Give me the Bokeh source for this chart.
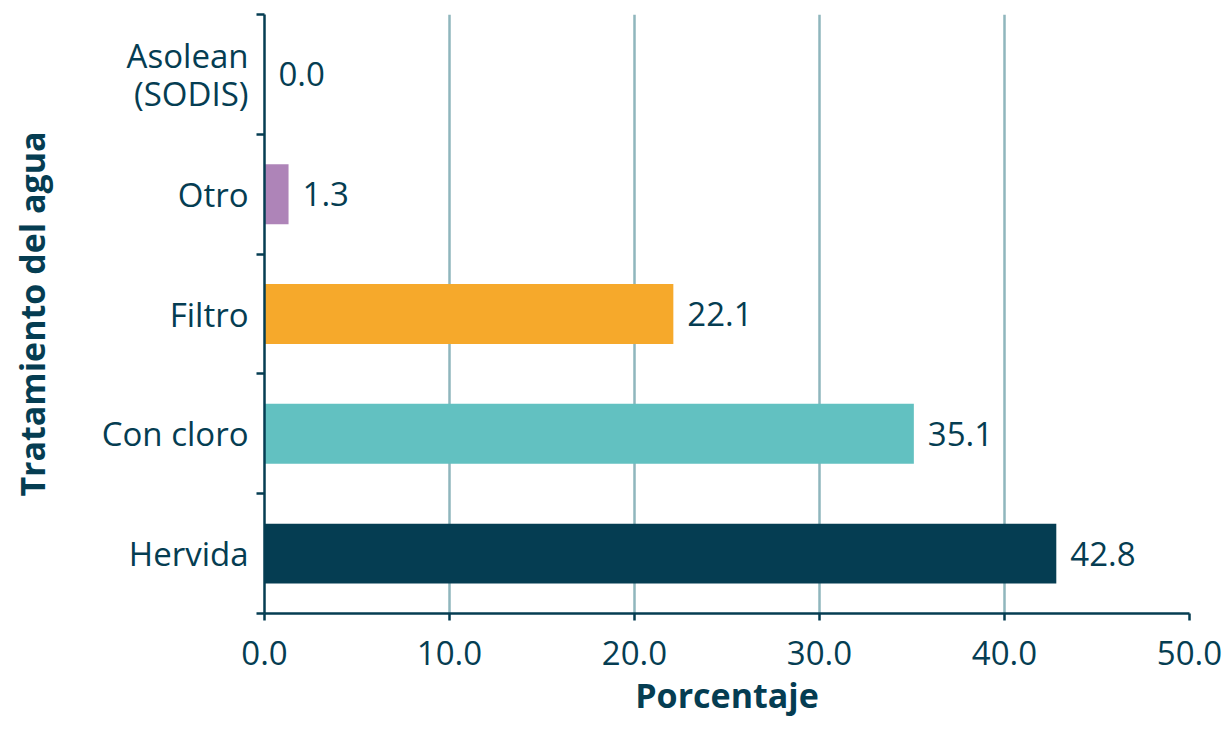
from bokeh.plotting import figure
from bokeh.models import ColumnDataSource, LabelSet, FixedTicker, Range1d, CustomJSTickFormatter, LinearAxis
from bokeh.core.properties import value
from bokeh.embed import file_html
from bokeh.resources import INLINE

categories = ["Hervida", "Con cloro", "Filtro", "Otro", "Asolean\n(SODIS)"]
values = [42.8, 35.1, 22.1, 1.3, 0.0]
colors = ["#053d52", "#62c1c1", "#f6a92b", "#ae84b8", "#ae84b8"]
x_ticks = [0, 10, 20, 30, 40, 50]

DARK = "#053d52"
FONT = "Open Sans"
FS = "33px"

pos = [i + 0.5 for i in range(len(categories))]
src = ColumnDataSource(dict(
    y=pos, v=values, c=colors, cat=categories,
    vlab=[f"{v:.1f}" for v in values],
    zero=[0] * len(values),
))

p = figure(width=1231, height=738, output_backend="svg", toolbar_location=None,
           x_range=Range1d(0, 50), y_range=Range1d(0, len(categories)),
           min_border_left=264, min_border_right=42, min_border_top=14, min_border_bottom=125)
p.outline_line_color = None
p.background_fill_color = "white"

p.hbar(y="y", left="zero", right="v", height=0.5, fill_color="c", line_color=None, source=src)

# value labels
vl = LabelSet(x="v", y="y", text="vlab", source=src, x_offset=14, text_baseline="middle",
              text_align="left", text_font=value(FONT), text_font_size=FS, text_color=DARK)
p.add_layout(vl)

# x axis
p.xaxis.ticker = FixedTicker(ticks=x_ticks)
p.xaxis.formatter = CustomJSTickFormatter(code="return tick.toFixed(1);")
p.xaxis.axis_line_color = DARK
p.xaxis.axis_line_width = 2.5
p.xaxis.major_tick_line_color = DARK
p.xaxis.major_tick_line_width = 2.5
p.xaxis.major_tick_out = 7
p.xaxis.major_tick_in = 0
p.xaxis.minor_tick_line_color = None
p.xaxis.major_label_text_font = FONT
p.xaxis.major_label_text_font_size = FS
p.xaxis.major_label_text_color = DARK
p.xaxis.major_label_standoff = 20
p.xaxis.axis_label = "Porcentaje"
p.xaxis.axis_label_text_font = FONT
p.xaxis.axis_label_text_font_size = "34px"
p.xaxis.axis_label_text_font_style = "bold"
p.xaxis.axis_label_text_color = DARK
p.xaxis.axis_label_standoff = 4

# inner y axis: ticks at category boundaries, no tick labels
p.yaxis.ticker = FixedTicker(ticks=list(range(len(categories) + 1)))
p.yaxis.major_label_overrides = {i: "" for i in range(len(categories) + 1)}
p.yaxis.major_label_text_font_size = "1px"
p.yaxis.major_label_standoff = 0
p.yaxis.axis_line_color = DARK
p.yaxis.axis_line_width = 2.5
p.yaxis.major_tick_line_color = DARK
p.yaxis.major_tick_line_width = 2.5
p.yaxis.major_tick_out = 8
p.yaxis.major_tick_in = 0
p.yaxis.minor_tick_line_color = None

# outer y axis: category names at centres
lab_axis = LinearAxis(ticker=FixedTicker(ticks=pos),
                      major_label_overrides={pos[i]: categories[i] for i in range(len(pos))},
                      axis_line_color=None, major_tick_line_color=None, minor_tick_line_color=None,
                      major_label_text_font=FONT, major_label_text_font_size=FS,
                      major_label_text_color=DARK, major_label_standoff=2,
                      major_label_text_line_height=0.85,
                      axis_label="Tratamiento del agua", axis_label_text_font=FONT,
                      axis_label_text_font_size="34px", axis_label_text_font_style="bold",
                      axis_label_text_color=DARK, axis_label_standoff=44)
p.add_layout(lab_axis, "left")

p.xgrid.ticker = FixedTicker(ticks=x_ticks[1:])
p.xgrid.grid_line_color = "#8fb6bd"
p.xgrid.grid_line_width = 2.5
p.ygrid.grid_line_color = None

open("out.html", "w").write(file_html(p, INLINE))
